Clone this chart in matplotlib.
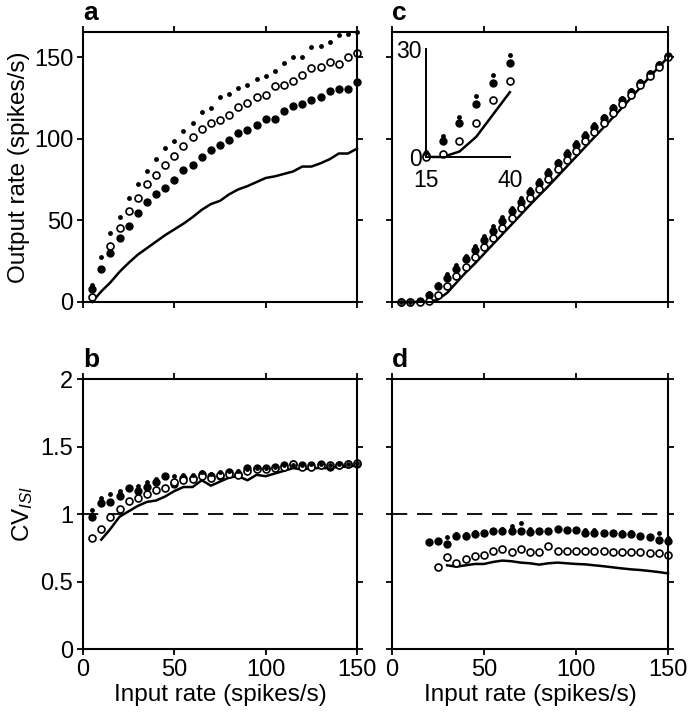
import numpy as np
import matplotlib

matplotlib.use("Agg")
import matplotlib.pyplot as plt

plt.rcParams["font.family"] = ["Liberation Sans", "DejaVu Sans"]
plt.rcParams["mathtext.fontset"] = "custom"
plt.rcParams["mathtext.rm"] = "Liberation Sans"
plt.rcParams["mathtext.it"] = "Liberation Sans:italic"
plt.rcParams["lines.scale_dashes"] = False

# input rates (spikes/s)
rate = np.arange(5, 155, 5)

# panel a: output rate, three marker series + line
a_small = [10.6, 27.4, 42.3, 52.0, 63.9, 72.3, 80.4, 87.8, 94.3, 98.4,
           105.1, 110.0, 116.3, 119.2, 125.5, 127.6, 131.4, 133.1, 136.7, 138.6,
           141.8, 146.3, 150.0, 150.4, 156.5, 157.1, 159.2, 163.7, 164.1, 165.5]
a_open = [2.8, np.nan, 34.5, 45.1, 55.7, 63.9, 72.3, 78.1, 83.7, 89.2,
          95.3, 101.4, 105.9, 109.6, 111.6, 114.7, 119.4, 122.2, 125.9, 127.0,
          132.5, 133.1, 135.7, 139.2, 143.7, 144.3, 146.8, 146.0, 150.4, 152.4]
a_fill = [8.0, 20.2, 29.8, 39.2, 46.3, 54.3, 61.0, 65.9, 69.8, 74.5,
          81.0, 83.7, 89.0, 93.3, 96.0, 99.4, 103.7, 105.5, 108.6, 112.2,
          112.2, 117.2, 120.4, 121.2, 123.8, 125.5, 129.6, 130.6, 130.8, 134.9]
a_line = [0.0, 6.5, 12.0, 18.5, 24.0, 29.0, 33.0, 37.0, 41.0, 44.5,
          48.0, 52.0, 56.5, 60.0, 62.0, 66.0, 69.0, 71.0, 73.5, 76.0,
          77.0, 78.5, 80.0, 83.0, 83.0, 85.0, 87.5, 91.0, 91.0, 94.0]

# panel c: output rate with inhibition
c_small = [0.0, 0.2, 1.4, 5.8, 11.0, 17.0, 22.7, 28.3, 34.5, 40.3,
           46.3, 52.3, 57.8, 63.5, 69.2, 75.0, 80.8, 86.7, 92.3, 97.8,
           103.4, 108.8, 114.0, 120.0, 125.2, 130.2, 135.6, 141.0, 146.2, 151.6]
c_open = [0.0, 0.0, 0.0, 0.8, 4.5, 9.5, 15.7, 21.2, 27.5, 33.5,
          39.5, 45.5, 51.5, 57.5, 63.5, 69.5, 75.3, 81.2, 87.2, 92.8,
          98.7, 104.3, 110.0, 115.8, 121.4, 127.0, 132.8, 138.5, 144.0, 150.0]
c_fill = [0.0, 0.0, 0.6, 4.5, 9.5, 14.6, 20.5, 26.2, 32.0, 37.7,
          43.7, 49.8, 55.5, 61.2, 67.1, 72.9, 79.0, 85.0, 90.8, 96.3,
          102.0, 107.5, 112.7, 118.8, 124.0, 129.0, 134.5, 140.0, 145.3, 151.0]
c_line = [0.0, 0.0, 0.0, 0.0, 1.5, 5.6, 11.8, 18.0, 23.5, 29.5,
          35.5, 41.5, 47.5, 53.5, 59.5, 65.3, 71.0, 77.0, 83.0, 89.0,
          95.0, 101.0, 107.0, 113.0, 119.0, 125.2, 131.5, 138.0, 144.0, 150.0]

# panel b: CV_ISI
b_small = [1.03, 1.12, 1.15, 1.17, 1.20, 1.21, 1.24, 1.26, 1.29, 1.28,
           1.29, 1.29, 1.31, 1.30, 1.31, 1.32, 1.32, 1.33, 1.34, 1.34,
           1.35, 1.36, 1.36, 1.36, 1.37, 1.37, 1.36, 1.37, 1.37, 1.38]
b_open = [0.82, 0.89, 0.98, 1.04, 1.10, 1.12, 1.145, 1.18, 1.19, 1.24,
          1.25, 1.26, 1.28, 1.27, 1.29, 1.30, 1.29, 1.32, 1.33, 1.33,
          1.34, 1.35, 1.37, 1.35, 1.35, 1.36, 1.36, 1.36, 1.37, 1.38]
b_fill = [0.98, 1.08, 1.09, 1.13, 1.19, 1.17, 1.20, 1.24, 1.28, 1.22,
          1.27, 1.27, 1.30, 1.28, 1.28, 1.31, 1.30, 1.34, 1.34, 1.34,
          1.35, 1.36, 1.37, 1.36, 1.36, 1.37, 1.35, 1.36, 1.37, 1.37]
b_line = [np.nan, 0.81, 0.89, 0.98, 1.02, 1.06, 1.09, 1.10, 1.13, 1.17,
          1.20, 1.20, 1.25, 1.21, 1.24, 1.27, 1.28, 1.25, 1.29, 1.28,
          1.30, 1.32, 1.34, 1.33, 1.34, 1.34, 1.34, 1.35, 1.35, 1.36]

# panel d: CV_ISI with inhibition (no data below 20 spikes/s)
d_small = [np.nan, np.nan, np.nan, 0.80, 0.81, 0.83, 0.85, 0.855, 0.865, 0.87,
           0.88, 0.89, 0.91, 0.93, 0.89, 0.88, 0.88, 0.89, 0.89, 0.885,
           0.88, 0.88, 0.87, 0.87, 0.865, 0.87, 0.84, 0.835, 0.86, 0.82]
d_open = [np.nan, np.nan, np.nan, np.nan, 0.61, 0.68, 0.64, 0.67, 0.69, 0.70,
          0.725, 0.74, 0.715, 0.74, 0.72, 0.72, 0.76, 0.725, 0.725, 0.725,
          0.725, 0.725, 0.725, 0.715, 0.72, 0.715, 0.715, 0.71, 0.71, 0.70]
d_fill = [np.nan, np.nan, np.nan, 0.79, 0.80, 0.78, 0.836, 0.84, 0.85, 0.86,
          0.874, 0.874, 0.874, 0.874, 0.87, 0.874, 0.874, 0.89, 0.88, 0.88,
          0.857, 0.857, 0.857, 0.857, 0.85, 0.85, 0.836, 0.826, 0.81, 0.80]
d_line = [np.nan, np.nan, np.nan, np.nan, np.nan, 0.62, 0.61, 0.62, 0.63, 0.63,
          0.645, 0.655, 0.65, 0.64, 0.635, 0.625, 0.635, 0.64, 0.635, 0.63,
          0.627, 0.62, 0.613, 0.605, 0.597, 0.59, 0.585, 0.578, 0.57, 0.56]

inset_lo, inset_hi = 15, 40


def draw_series(ax, x, small, opn, fill, line):
    ax.plot(x, line, color="black", lw=1.8, clip_on=False)
    ax.plot(x, fill, "o", color="black", ms=6.0, mew=0, clip_on=False)
    ax.plot(x, opn, "o", mfc="white", mec="black", ms=5.0, mew=1.2, clip_on=False)
    ax.plot(x, small, "o", color="black", ms=3.5, mew=0, clip_on=False)


def style(ax, ylim, yticks):
    ax.set_xlim(0, 150)
    ax.set_ylim(*ylim)
    ax.set_xticks([0, 50, 100, 150])
    ax.set_yticks(yticks)
    for s in ax.spines.values():
        s.set_linewidth(1.5)
    ax.tick_params(direction="out", length=4, width=1.3, labelsize=17,
                   top=True, right=True, pad=3)


fig = plt.figure(figsize=(6.89, 7.2), dpi=100)
ax_a = fig.add_axes([0.1205, 0.5806, 0.3977, 0.375])
ax_c = fig.add_axes([0.5689, 0.5806, 0.4006, 0.375])
ax_b = fig.add_axes([0.1205, 0.0986, 0.3977, 0.375])
ax_d = fig.add_axes([0.5689, 0.0986, 0.4006, 0.375])

draw_series(ax_a, rate, a_small, a_open, a_fill, a_line)
draw_series(ax_c, rate, c_small, c_open, c_fill, c_line)
for ax in (ax_b, ax_d):
    ax.axhline(1.0, color="black", lw=1.3, dashes=(11, 7))
draw_series(ax_b, rate, b_small, b_open, b_fill, b_line)
draw_series(ax_d, rate, d_small, d_open, d_fill, d_line)

for ax in (ax_a, ax_c):
    style(ax, (0, 165.5), [0, 50, 100, 150])
    ax.tick_params(labelbottom=False)
for ax in (ax_b, ax_d):
    style(ax, (0, 2), [0, 0.5, 1, 1.5, 2])
    ax.set_yticklabels(["0", "0.5", "1", "1.5", "2"])
    ax.set_xlabel("Input rate (spikes/s)", fontsize=17.5, labelpad=2)
ax_c.tick_params(labelleft=False)
ax_d.tick_params(labelleft=False)

ax_a.set_ylabel("Output rate (spikes/s)", fontsize=17.5, labelpad=3)
ax_b.set_ylabel(r"CV$_{\mathit{ISI}}$", fontsize=17.5, labelpad=4)

for ax, lab in zip((ax_a, ax_b, ax_c, ax_d), "abcd"):
    ax.text(0.0, 1.045, lab, transform=ax.transAxes, fontsize=19,
            fontweight="bold", ha="left", va="baseline")

# inset of panel c: low input rates
ax_in = fig.add_axes([0.618, 0.782, 0.122, 0.150])
sel = (rate >= inset_lo) & (rate <= inset_hi)
draw_series(ax_in, rate[sel], np.array(c_small)[sel], np.array(c_open)[sel],
            np.array(c_fill)[sel], np.array(c_line)[sel])
ax_in.set_xlim(inset_lo, inset_hi)
ax_in.set_ylim(0, 30)
ax_in.set_xticks([inset_lo, inset_hi])
ax_in.set_yticks([0, 30])
ax_in.spines["top"].set_visible(False)
ax_in.spines["right"].set_visible(False)
for s in ("left", "bottom"):
    ax_in.spines[s].set_linewidth(1.4)
ax_in.patch.set_alpha(0)
ax_in.tick_params(length=0, labelsize=16.5)
ax_in.tick_params(axis="x", pad=9)
ax_in.tick_params(axis="y", pad=3)

fig.savefig("out.png", dpi=100)
